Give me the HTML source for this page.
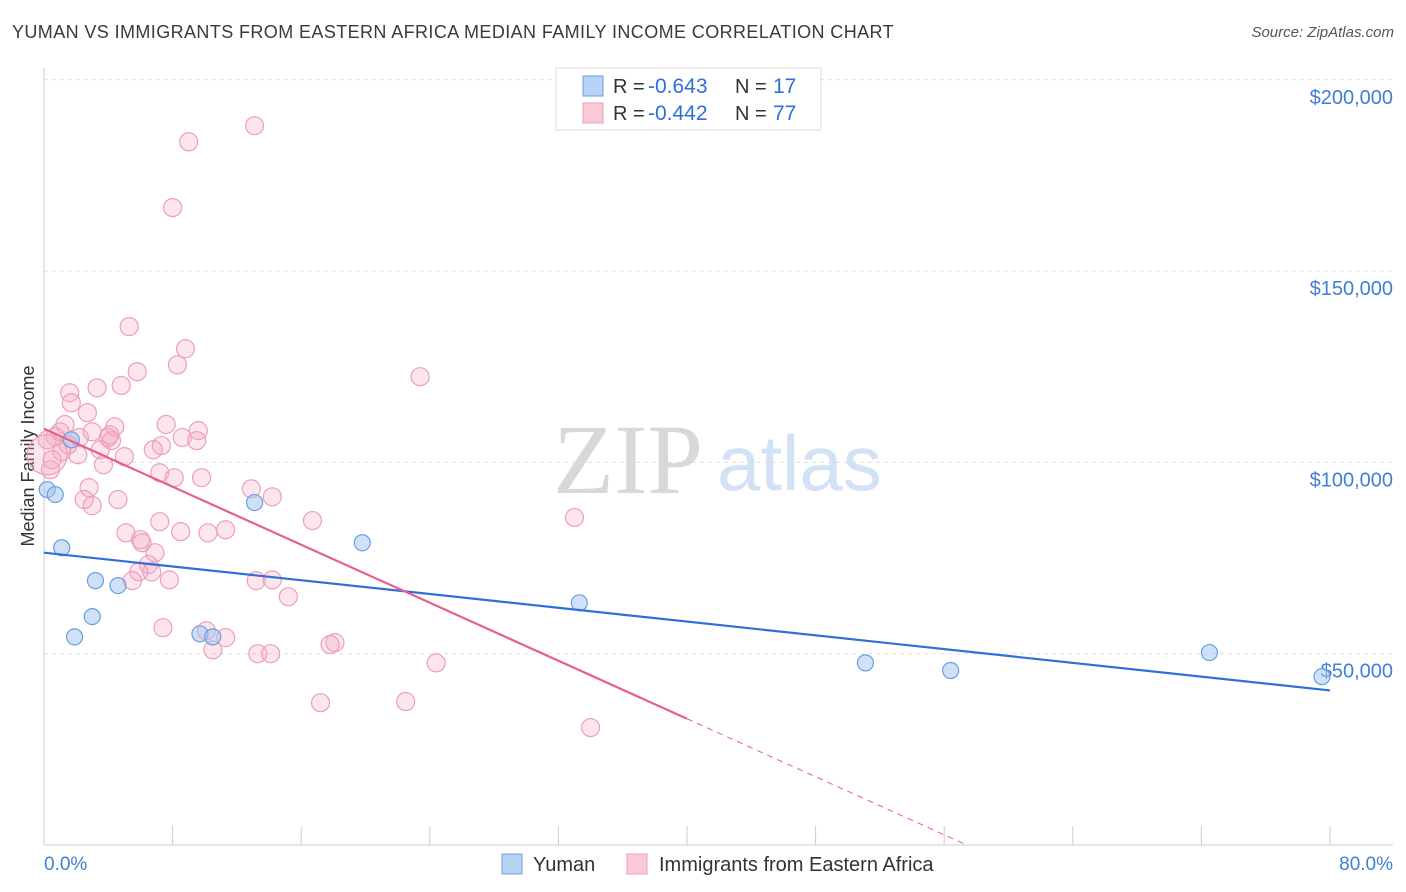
<!DOCTYPE html>
<html><head><meta charset="utf-8">
<style>
body{margin:0;background:#fff;font-family:"Liberation Sans",sans-serif;}
#wrap{position:relative;width:1406px;height:892px;overflow:hidden;}
.t{position:absolute;white-space:nowrap;}
</style></head>
<body>
<div id="wrap">
<div class="t" style="left:12px;top:22px;font-size:18px;letter-spacing:0.4px;color:#3a3a3a;">YUMAN VS IMMIGRANTS FROM EASTERN AFRICA MEDIAN FAMILY INCOME CORRELATION CHART</div>
<div class="t" style="right:12px;top:24px;font-size:15px;color:#555;font-style:italic;">Source: ZipAtlas.com</div>
<svg id="chart" width="1406" height="892" style="position:absolute;left:0;top:0"></svg>
</div>
<script>
const yumanX=[0.2,0.7,1.1,1.7,1.9,3.0,3.2,4.6,9.7,10.5,13.1,19.8,33.3,51.1,56.4,72.5,79.5];
const yumanY=[92.9,91.6,77.7,105.9,54.4,59.7,69.1,67.8,55.2,54.4,89.5,79.0,63.3,47.6,45.6,50.3,44.0];
const eafX=[13.1,9.0,8.0,5.3,8.8,8.3,23.4,5.8,1.6,3.3,4.8,1.7,2.7,7.6,4.4,1.3,9.6,0.7,2.2,4.0,8.6,9.5,4.2,7.3,3.5,6.8,1.1,2.1,5.0,3.7,7.2,8.1,9.8,2.8,12.9,14.2,2.5,4.6,3.0,33.0,16.7,7.2,8.5,10.2,5.1,6.1,6.9,6.5,6.7,5.9,5.5,7.8,13.2,14.2,15.2,7.4,10.1,11.3,18.1,17.8,10.5,13.3,14.1,24.4,17.2,22.5,34.0,0.5,0.2,0.4,3.0,1.0,4.1,1.5,6.0,11.3,0.2];
const eafY=[188.0,183.8,166.6,135.5,129.7,125.5,122.4,123.7,118.2,119.5,120.1,115.6,113.0,109.9,109.3,109.9,108.3,106.7,106.5,106.5,106.5,105.7,105.7,104.4,103.3,103.3,102.8,102.0,101.5,99.4,97.3,96.0,96.0,93.4,93.1,91.0,90.3,90.3,88.7,85.6,84.8,84.5,81.9,81.6,81.6,79.0,76.4,73.3,71.4,71.4,69.1,69.3,69.1,69.3,64.9,56.8,56.0,54.2,52.9,52.4,51.0,50.0,50.0,47.6,37.2,37.5,30.7,100.7,105.9,98.1,108.0,108.0,107.2,104.6,79.8,82.4,102.0];
const yumanTrend=[76.4,40.4];      // value at 0% and 80%
const eafTrend=[108.8,33.0,40.0];  // value at 0%, value at solid end, solid end %
const yTicks=[50,100,150,200];
const yTickLabels=["$50,000","$100,000","$150,000","$200,000"];
const xTicks=[0,8,16,24,32,40,48,56,64,72,80];

const X=v=>44+v*16.075;
const Y=v=>845-v*3.826;
const svg=document.getElementById('chart');
const NS='http://www.w3.org/2000/svg';
function mk(tag,attrs,parent){const e=document.createElementNS(NS,tag);for(const k in attrs)e.setAttribute(k,attrs[k]);(parent||svg).appendChild(e);return e;}

yTicks.forEach((t,i)=>{
 const g=mk('line',{x1:44,x2:1393,y1:Y(t),y2:Y(t),stroke:'#e0e0e0','stroke-dasharray':'4,4'});
 
 
 const l=mk('text',{x:1393,y:Y(t)+24,'text-anchor':'end','font-size':20,fill:'#3f7fd6'});
 l.textContent=yTickLabels[i];
 
 
});
const ax=mk('line',{x1:44,x2:1393,y1:845,y2:845,stroke:'#ccc'});


const ay=mk('line',{x1:44,x2:44,y1:68,y2:845,stroke:'#ccc'});


xTicks.forEach(t=>{
 const k=mk('line',{x1:X(t),x2:X(t),y1:826,y2:845,stroke:'#ccc'});
 
 
});
const x0=mk('text',{x:44,y:870,'font-size':19,fill:'#3f7fd6'});x0.textContent='0.0%';


const x1=mk('text',{x:1393,y:870,'font-size':19,fill:'#3f7fd6','text-anchor':'end'});x1.textContent='80.0%';


const yt=mk('text',{x:34,y:456,'font-size':18,fill:'#333','text-anchor':'middle',transform:'rotate(-90 34 456)'});yt.textContent='Median Family Income';



const wm=mk('text',{x:553,y:493,'font-size':100,fill:'#d8d8d8','font-family':'Liberation Serif'});wm.textContent='ZIP';


const wm2=mk('text',{x:717,y:490,'font-size':78,fill:'#d3e1f4'});wm2.textContent='atlas';



eafX.forEach((x,i)=>{
 const r=(i===eafX.length-1)?20:9;
 const c=mk('circle',{cx:X(x),cy:Y(eafY[i]),r:r,fill:'rgba(244,170,195,0.3)',stroke:'#ec9fb8','stroke-width':1.2});
 
 
});
yumanX.forEach((x,i)=>{
 const c=mk('circle',{cx:X(x),cy:Y(yumanY[i]),r:8,fill:'rgba(160,195,240,0.5)',stroke:'#6a9ee0','stroke-width':1.2});
 
 
});
const bl=mk('line',{x1:X(0),y1:Y(yumanTrend[0]),x2:X(80),y2:Y(yumanTrend[1]),stroke:'#2f6fd8','stroke-width':2.2});


const slope=(eafTrend[1]-eafTrend[0])/eafTrend[2];
const pl=mk('line',{x1:X(0),y1:Y(eafTrend[0]),x2:X(eafTrend[2]),y2:Y(eafTrend[1]),stroke:'#e5608f','stroke-width':2.2});


const zx=-eafTrend[0]/slope;
const pd=mk('line',{x1:X(eafTrend[2]),y1:Y(eafTrend[1]),x2:X(zx),y2:Y(0),stroke:'#e5608f','stroke-width':1,'stroke-dasharray':'6,5'});



const lg=mk('g',{});


mk('rect',{x:556,y:68,width:265,height:62,fill:'#fff',stroke:'#ddd'},lg);
mk('rect',{x:583,y:76,width:20,height:20,fill:'#b8d3f5',stroke:'#6a9ee0'},lg);
mk('rect',{x:583,y:103,width:20,height:20,fill:'#f9c9d8',stroke:'#ec9fb8'},lg);
[['R = ','-0.643','N = ','17',93],['R = ','-0.442','N = ','77',120]].forEach(r=>{
 const a=mk('text',{x:613,y:r[4],'font-size':20,fill:'#333'},lg);a.textContent=r[0];
 const b=mk('text',{x:648,y:r[4],'font-size':21,fill:'#2f6fd8'},lg);b.textContent=r[1];
 const c=mk('text',{x:735,y:r[4],'font-size':20,fill:'#333'},lg);c.textContent=r[2];
 const d=mk('text',{x:773,y:r[4],'font-size':21,fill:'#2f6fd8'},lg);d.textContent=r[3];
});
const bl2=mk('g',{});


mk('rect',{x:502,y:854,width:20,height:20,fill:'#b8d3f5',stroke:'#6a9ee0'},bl2);
const t1=mk('text',{x:533,y:871,'font-size':20,fill:'#333'},bl2);t1.textContent='Yuman';
mk('rect',{x:627,y:854,width:20,height:20,fill:'#f9c9d8',stroke:'#ec9fb8'},bl2);
const t2=mk('text',{x:659,y:871,'font-size':20,fill:'#333'},bl2);t2.textContent='Immigrants from Eastern Africa';
</script>
</body></html>
